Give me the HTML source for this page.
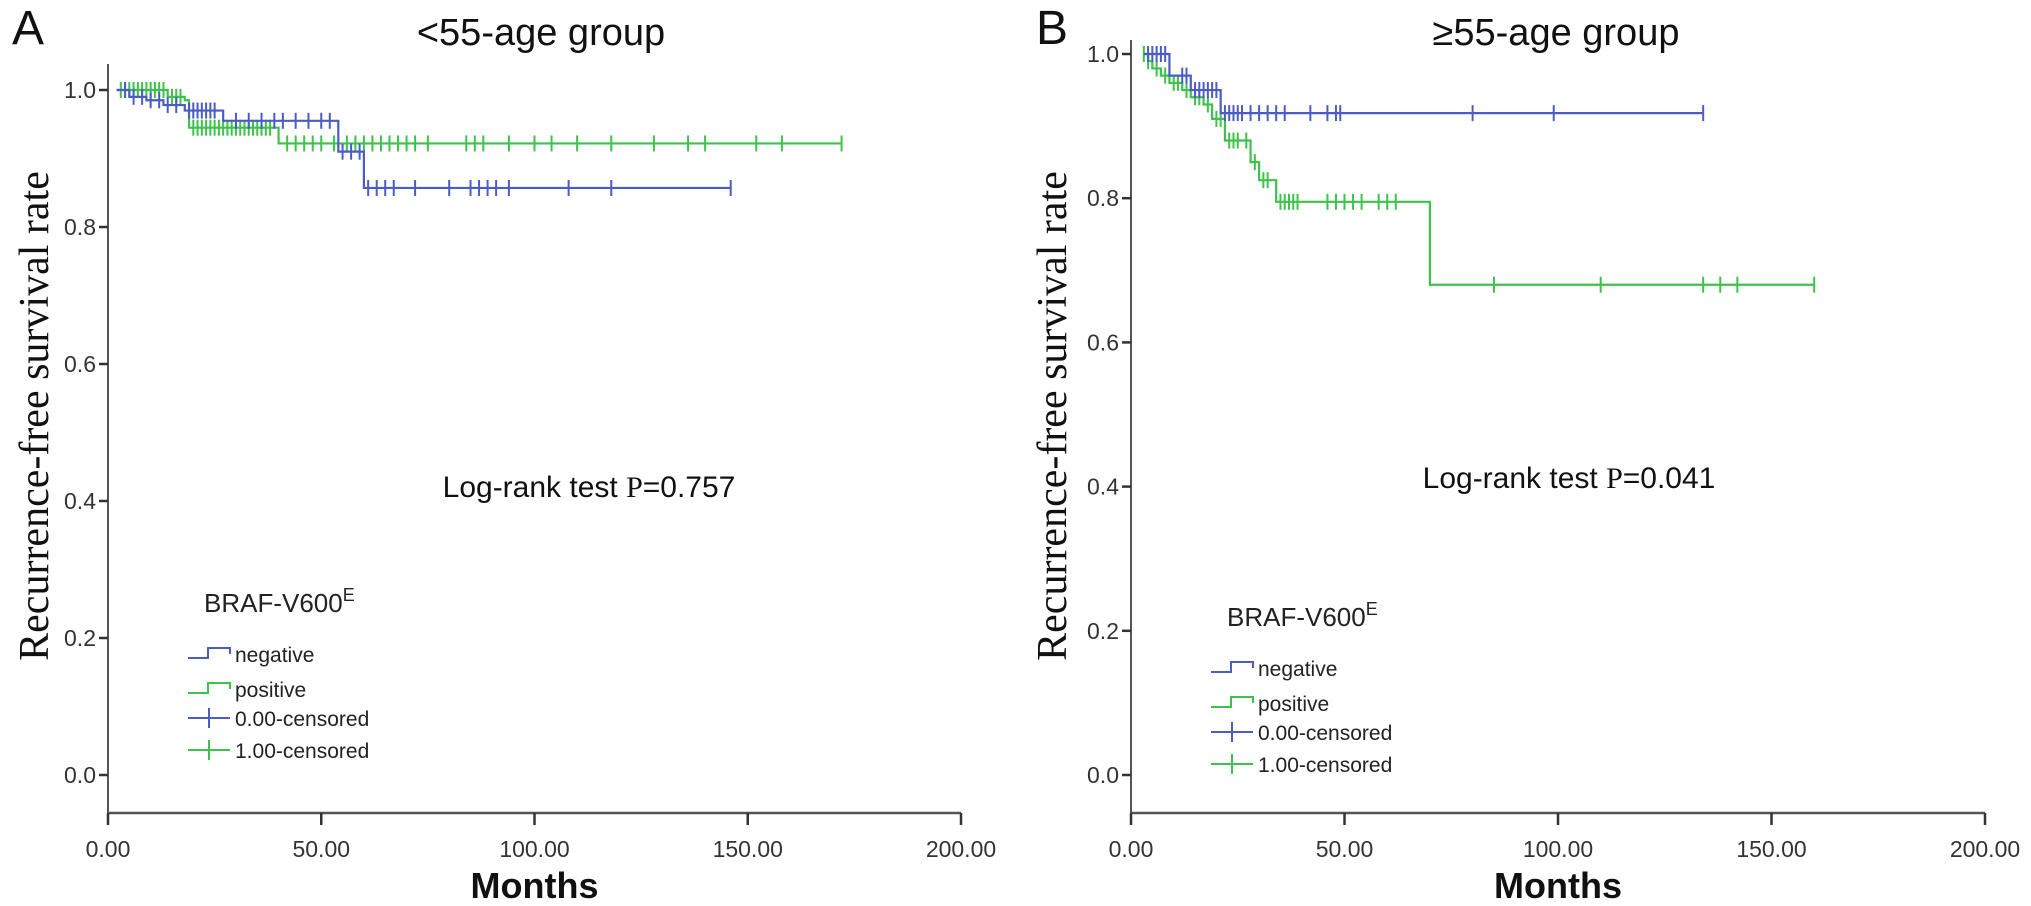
<!DOCTYPE html>
<html><head><meta charset="utf-8">
<style>
html,body{margin:0;padding:0;background:#fff;}
svg{display:block;font-family:"Liberation Sans",Arial,sans-serif;}
</style></head>
<body>
<svg id="fig" width="2031" height="906" viewBox="0 0 2031 906">
<text x="12" y="44" font-size="48" fill="#111">A</text>
<text x="541" y="45" font-size="38" fill="#111" text-anchor="middle">&lt;55-age group</text>
<text x="1036" y="44" font-size="48" fill="#111">B</text>
<text x="1556" y="45" font-size="38" fill="#111" text-anchor="middle">≥55-age group</text>
<text x="589" y="497" font-size="30" fill="#111" text-anchor="middle">Log-rank test <tspan font-family="Liberation Serif">P</tspan>=0.757</text>
<text x="1569" y="488" font-size="30" fill="#111" text-anchor="middle">Log-rank test <tspan font-family="Liberation Serif">P</tspan>=0.041</text>
<g id="plots"></g>
</svg>
<script>
// Panel A data
const tickY = [0.0, 0.2, 0.4, 0.6, 0.8, 1.0];
const tickYLabels = ["0.0","0.2","0.4","0.6","0.8","1.0"];
const tickX = [0, 50, 100, 150, 200];
const tickXLabels = ["0.00","50.00","100.00","150.00","200.00"];
const aNegTimes = [2, 5, 9, 13, 18, 27, 54, 60, 146];
const aNegSurv  = [1.0, 0.99, 0.985, 0.978, 0.97, 0.955, 0.91, 0.857, 0.857];
const aNegCens  = [4,6,8,10,12,14,16,19,20,21,22,23,24,25,30,33,36,39,41,44,47,50,52,55,57,59,61,63,65,67,72,80,85,87,89,91,94,108,118,146];
const aPosTimes = [2, 14, 18, 19, 40, 172];
const aPosSurv  = [1.0, 0.99, 0.985, 0.945, 0.922, 0.922];
const aPosCens  = [3,4,5,6,7,8,9,10,11,12,13,15,16,17,20,21,22,23,24,25,26,27,28,29,30,31,32,33,34,35,36,37,38,42,44,46,48,50,53,56,58,60,62,64,66,68,70,72,75,84,86,88,94,100,104,110,118,128,136,140,152,158,172];
// Panel B data
const bNegTimes = [3, 9, 14, 21, 134];
const bNegSurv  = [1.0, 0.97, 0.95, 0.918, 0.918];
const bNegCens  = [4,5,6,7,8,12,13,15,16,17,18,19,20,22,23,24,25,26,28,30,32,34,36,42,46,48,49,80,99,134];
const bPosTimes = [3, 4, 5, 7, 9, 12, 14, 17, 19, 22, 28, 30, 34, 70, 160];
const bPosSurv  = [1.0, 0.99, 0.98, 0.97, 0.96, 0.95, 0.94, 0.93, 0.91, 0.88, 0.85, 0.825, 0.795, 0.68, 0.68];
const bPosCens  = [3,4,6,8,10,11,13,15,16,18,20,21,23,24,25,27,29,31,32,35,36,37,38,39,46,48,50,52,54,58,60,62,85,110,134,138,142,160];

const NS = "http://www.w3.org/2000/svg";
const BLUE = "#4b5cc4", GREEN = "#3ec24c";
const root = document.getElementById("plots");
function mk(tag, attrs, parent){ const e=document.createElementNS(NS,tag); for(const k in attrs) e.setAttribute(k,attrs[k]); (parent||root).appendChild(e); return e; }

function survAt(times, surv, t){ let v=surv[0]; for(let i=0;i<times.length;i++){ if(times[i]<=t) v=surv[i]; } return v; }

function panel(id, x0, x1, y0, y1, axisTop, legendTop, titleOff, negT, negS, negC, posT, posS, posC){
  const g = mk("g", {});
  
  
  const sx = t => x0 + (t/200)*(x1-x0);
  const sy = v => y0 - v*(y0-y1);
  const axisY = 813;
  const ya = mk("line",{x1:x0,y1:axisTop,x2:x0,y2:axisY,stroke:"#555","stroke-width":2},g);
  
  
  const xa = mk("line",{x1:x0,y1:axisY,x2:x1,y2:axisY,stroke:"#555","stroke-width":2.5},g);
  
  
  tickY.forEach((v,i)=>{
    mk("line",{x1:x0-9,y1:sy(v),x2:x0,y2:sy(v),stroke:"#333","stroke-width":2.5},g);
    const t = mk("text",{x:x0-12,y:sy(v)+8,"font-size":23,fill:"#333","text-anchor":"end"},g);
    t.textContent = tickYLabels[i];
    
    
  });
  tickX.forEach((v,i)=>{
    mk("line",{x1:sx(v),y1:axisY,x2:sx(v),y2:axisY+12,stroke:"#333","stroke-width":2.5},g);
    const t = mk("text",{x:sx(v),y:axisY+44,"font-size":23,fill:"#333","text-anchor":"middle"},g);
    t.textContent = tickXLabels[i];
    
    
  });
  const xt = mk("text",{x:(x0+x1)/2,y:axisY+85,"font-size":36,"font-weight":"bold",fill:"#111","text-anchor":"middle"},g);
  xt.textContent = "Months";
  
  
  const ytx = x0-titleOff, yty = 416;
  const yt = mk("text",{x:ytx,y:yty,"font-size":42,fill:"#111","text-anchor":"middle","font-family":"Liberation Serif, serif",transform:`rotate(-90 ${ytx} ${yty})`},g);
  yt.textContent = "Recurrence-free survival rate";
  
  

  function curve(times, surv, cens, color, name){
    let d = `M${sx(times[0])},${sy(surv[0])}`;
    for(let i=1;i<times.length;i++){ d += ` H${sx(times[i])} V${sy(surv[i])}`; }
    const p = mk("path",{d:d,fill:"none",stroke:color,"stroke-width":2.2},g);
    
    
    cens.forEach(t=>{
      const v = survAt(times, surv, t);
      const c = mk("line",{x1:sx(t),y1:sy(v)-8,x2:sx(t),y2:sy(v)+8,stroke:color,"stroke-width":2},g);
      
      
    });
  }
  curve(posT,posS,posC,GREEN,"positive");
  curve(negT,negS,negC,BLUE,"negative");

  const lx = x0+80, lt = legendTop;
  const lg = mk("g",{},g);
  
  
  const tt = mk("text",{x:lx+16,y:lt,"font-size":26,fill:"#222"},lg);
  tt.innerHTML = 'BRAF-V600<tspan dy="-11" font-size="18">E</tspan>';
  
  
  const items = [["negative",BLUE,"step"],["positive",GREEN,"step"],["0.00-censored",BLUE,"cross"],["1.00-censored",GREEN,"cross"]];
  const gaps = [46, 81, 110, 142];
  items.forEach((it,i)=>{
    const y = lt + gaps[i];
    if(it[2]==="step"){
      mk("path",{d:`M${lx},${y} H${lx+20} V${y-10} H${lx+42} V${y-4}`,fill:"none",stroke:it[1],"stroke-width":2},lg);
    } else {
      mk("line",{x1:lx,y1:y-4,x2:lx+42,y2:y-4,stroke:it[1],"stroke-width":2},lg);
      mk("line",{x1:lx+21,y1:y-14,x2:lx+21,y2:y+6,stroke:it[1],"stroke-width":2},lg);
    }
    const t = mk("text",{x:lx+47,y:y+4,"font-size":21,fill:"#222"},lg);
    t.textContent = it[0];
    
    
  });
}
panel("a", 108, 961, 775, 90, 64, 612, 60, aNegTimes, aNegSurv, aNegCens, aPosTimes, aPosSurv, aPosCens);
panel("b", 1131, 1985, 775, 54, 40, 626, 65, bNegTimes, bNegSurv, bNegCens, bPosTimes, bPosSurv, bPosCens);
</script>
</body></html>
